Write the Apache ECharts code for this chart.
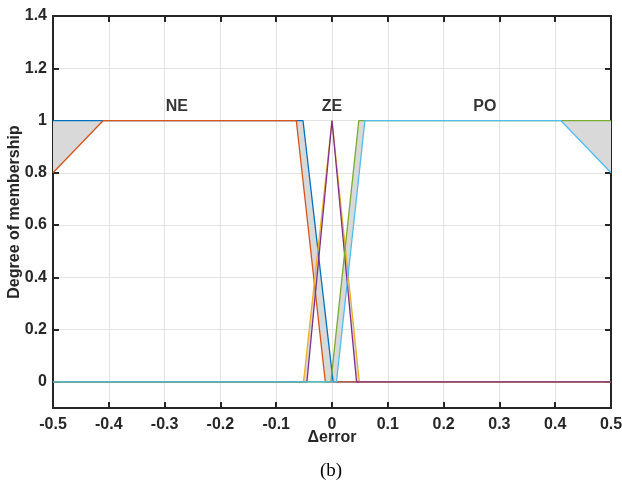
<!DOCTYPE html>
<html>
<head>
<meta charset="utf-8">
<script src="https://cdn.jsdelivr.net/npm/echarts@6/dist/echarts.min.js"></script>
<style>html,body{margin:0;padding:0;background:#fff;}#c{width:622px;height:485px;}</style>
</head>
<body>
<div id="c"></div>
<script>
// Membership functions (interval type-2)
const neUpperX = [-0.5, -0.052, 0.002, 0.5];
const neUpperY = [1, 1, 0, 0];
const neLowerX = [-0.5, -0.41, -0.064, -0.012, 0.5];
const neLowerY = [0.8, 1, 1, 0, 0];
const zeUpperX = [-0.5, -0.051, 0, 0.049, 0.5];
const zeUpperY = [0, 0, 1, 0, 0];
const zeLowerX = [-0.5, -0.045, 0, 0.044, 0.5];
const zeLowerY = [0, 0, 1, 0, 0];
const poUpperX = [-0.5, -0.002, 0.048, 0.5];
const poUpperY = [0, 0, 1, 1];
const poLowerX = [-0.5, 0.008, 0.059, 0.41, 0.5];
const poLowerY = [0, 0, 1, 1, 0.8];

const setNames = ['NE', 'ZE', 'PO'];
const setLabelX = [-0.278, 0, 0.274];
const setLabelY = [1.053, 1.053, 1.053];

const yTicks = [0, 0.2, 0.4, 0.6, 0.8, 1, 1.2, 1.4];

const zip = (xs, ys) => xs.map((x, i) => [x, ys[i]]);
const bands = [
  { up: zip(neUpperX, neUpperY), lo: zip(neLowerX, neLowerY) },
  { up: zip(zeUpperX, zeUpperY), lo: zip(zeLowerX, zeLowerY) },
  { up: zip(poUpperX, poUpperY), lo: zip(poLowerX, poLowerY) }
];

const lineDefs = [
  { d: zip(neUpperX, neUpperY), c: '#0072BD' },
  { d: zip(neLowerX, neLowerY), c: '#D95319' },
  { d: zip(zeUpperX, zeUpperY), c: '#EDB120' },
  { d: zip(zeLowerX, zeLowerY), c: '#7E2F8E' },
  { d: zip(poUpperX, poUpperY), c: '#77AC30' },
  { d: zip(poLowerX, poLowerY), c: '#4DBEEE' }
];

const axisColor = '#262626';
const fontFam = '"Liberation Sans", Arial, Helvetica, sans-serif';
const fmt = v => String(Math.round(v * 10) / 10);

const chart = echarts.init(document.getElementById('c'), null, { renderer: 'canvas' });
const series = [];
series.push({
  type: 'custom',
  xAxisIndex: 0, yAxisIndex: 0,
  data: bands.map((b, i) => [0, 0, i]),
  silent: true,
  clip: true,
  z: 1,
  renderItem: (params, api) => {
    const b = bands[params.dataIndex];
    const pts = b.up.concat(b.lo.slice().reverse()).map(p => api.coord(p));
    return { type: 'polygon', shape: { points: pts }, style: { fill: '#d9d9d9' } };
  }
});
lineDefs.forEach(l => series.push({
  type: 'line', data: l.d, symbol: 'none', z: 3,
  lineStyle: { color: l.c, width: 1.3 }, itemStyle: { color: l.c }, silent: true
}));
series.push({
  type: 'scatter', symbolSize: 0, z: 5, silent: true,
  data: setNames.map((n, i) => ({ value: [setLabelX[i], setLabelY[i]], name: n })),
  label: { show: true, position: 'inside', formatter: p => p.name, color: '#000', fontSize: 16, fontWeight: 'bold', fontFamily: fontFam }
});

chart.setOption({
  animation: false,
  backgroundColor: '#fff',
  grid: { left: 53, right: 11, top: 16, bottom: 77, containLabel: false, outerBoundsMode: 'none' },
  xAxis: [
    {
      type: 'value', min: -0.5, max: 0.5, interval: 0.1, position: 'bottom',
      name: 'Δerror', nameLocation: 'middle', nameGap: 22, nameMoveOverlap: false,
      nameTextStyle: { color: axisColor, fontSize: 16, fontWeight: 'bold', fontFamily: fontFam },
      axisLine: { show: true, onZero: false, lineStyle: { color: axisColor, width: 2 } },
      axisTick: { show: true, inside: true, length: 6, lineStyle: { color: axisColor, width: 2 } },
      axisLabel: { color: axisColor, fontSize: 16, fontWeight: 'bold', fontFamily: fontFam, margin: 9, formatter: fmt, showMinLabel: true, showMaxLabel: true },
      splitLine: { show: true, lineStyle: { color: '#e3e3e3', width: 1 } }
    },
    {
      type: 'value', min: -0.5, max: 0.5, interval: 0.1, position: 'top',
      axisLine: { show: true, onZero: false, lineStyle: { color: axisColor, width: 2 } },
      axisTick: { show: true, inside: true, length: 6, lineStyle: { color: axisColor, width: 2 } },
      axisLabel: { show: false }, splitLine: { show: false }
    }
  ],
  yAxis: [
    {
      type: 'value', min: -0.1, max: 1.4, position: 'left',
      name: 'Degree of membership', nameLocation: 'middle', nameGap: 30, nameMoveOverlap: false,
      nameTextStyle: { color: axisColor, fontSize: 16, fontWeight: 'bold', fontFamily: fontFam },
      axisLine: { show: true, onZero: false, lineStyle: { color: axisColor, width: 2 } },
      axisTick: { show: true, inside: true, length: 6, customValues: yTicks, lineStyle: { color: axisColor, width: 2 } },
      axisLabel: { color: axisColor, fontSize: 16, fontWeight: 'bold', fontFamily: fontFam, margin: 6, customValues: yTicks, formatter: fmt },
      splitLine: { show: true, lineStyle: { color: '#e3e3e3', width: 1 } }
    },
    {
      type: 'value', min: -0.1, max: 1.4, position: 'right',
      axisLine: { show: true, onZero: false, lineStyle: { color: axisColor, width: 2 } },
      axisTick: { show: true, inside: true, length: 6, customValues: yTicks, lineStyle: { color: axisColor, width: 2 } },
      axisLabel: { show: false }, splitLine: { show: false }
    }
  ],
  graphic: [
    { type: 'text', x: 331, y: 471, style: { text: '(b)', fontSize: 19, fontFamily: '"Liberation Serif", "Times New Roman", serif', fill: '#000', align: 'center', verticalAlign: 'middle' } }
  ],
  series: series
});
</script>
</body>
</html>
